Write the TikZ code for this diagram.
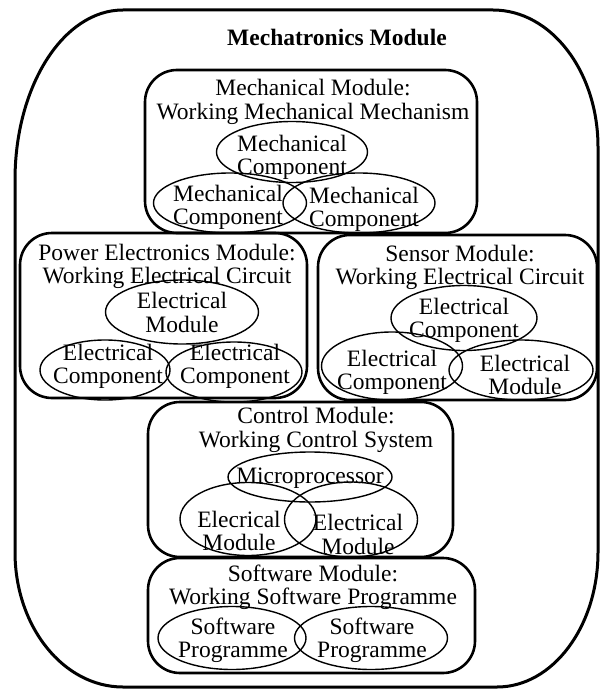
\documentclass[tikz,border=0pt]{standalone}
\usepackage{fontspec}
\setmainfont{Liberation Serif}
\usetikzlibrary{shapes.geometric}

\begin{document}
\begin{tikzpicture}[x=1pt, y=1pt, inner sep=0pt,
    font=\fontsize{23.5pt}{23.5pt}\selectfont,
    modbox/.style={draw, line width=2.6pt, rounded corners=32pt},
    part/.style={draw, ellipse, line width=1.4pt},
    lbl/.style={align=center}]
    \useasboundingbox (0,0) rectangle (600,-690);
    % outer frame
    \draw[line width=3pt] (123,-10) -- (493,-10)
      arc[start angle=90, end angle=0, x radius=105, y radius=137] -- (598,-552)
      arc[start angle=0, end angle=-90, x radius=101, y radius=135] -- (123,-687)
      arc[start angle=270, end angle=180, x radius=108, y radius=135] -- (15,-180)
      arc[start angle=180, end angle=90, x radius=108, y radius=170] -- cycle;
    \node[font=\fontsize{23.5pt}{23.5pt}\selectfont\bfseries] (mecha) at (337,-37) {Mechatronics Module};
    % module boxes
    \node[modbox, minimum width=332, minimum height=163] (mech) at (311,-151.5) {};
    \node[modbox, minimum width=287, minimum height=165] (power) at (163.5,-315.5) {};
    \node[modbox, minimum width=279, minimum height=165] (sensor) at (457.5,-317.5) {};
    \node[modbox, minimum width=305, minimum height=155] (control) at (300.5,-479.5) {};
    \node[modbox, minimum width=327, minimum height=115] (soft) at (311.5,-615.5) {};
    \node[lbl] (mechT) at (313,-102) {Mechanical Module:\\Working Mechanical Mechanism};
    \node[lbl] (powerT) at (167,-266.5) {Power Electronics Module:\\Working Electrical Circuit};
    \node[lbl] (sensorT) at (460,-267.5) {Sensor Module:\\Working Electrical Circuit};
    \node[lbl] (controlT) at (316,-430) {Control Module:\\Working Control System};
    \node[lbl] (softT) at (313,-587.5) {Software Module:\\Working Software Programme};
    % mechanical parts
    \node[part, minimum width=151, minimum height=61] (mc1) at (292,-152) {};
    \node[part, minimum width=153, minimum height=60] (mc2) at (230,-203) {};
    \node[part, minimum width=152, minimum height=60] (mc3) at (359,-203) {};
    \node[lbl] (mc1T) at (292,-157.5) {Mechanical\\Component};
    \node[lbl] (mc2T) at (228,-207.5) {Mechanical\\Component};
    \node[lbl] (mc3T) at (364,-209.5) {Mechanical\\Component};
    % power electronics parts
    \node[part, minimum width=153, minimum height=64] (pe1) at (182,-312) {};
    \node[part, minimum width=130, minimum height=60] (pe2) at (105,-370) {};
    \node[part, minimum width=136, minimum height=60] (pe3) at (234,-372) {};
    \node[lbl] (pe1T) at (182,-312.5) {Electrical\\Module};
    \node[lbl] (pe2T) at (108,-366.5) {Electrical\\Component};
    \node[lbl] (pe3T) at (235,-366.5) {Electrical\\Component};
    % sensor parts
    \node[part, minimum width=146, minimum height=65] (se1) at (464,-318) {};
    \node[part, minimum width=141, minimum height=68] (se2) at (392,-366) {};
    \node[part, minimum width=144, minimum height=60] (se3) at (521,-370) {};
    \node[lbl] (se1T) at (464,-320.5) {Electrical\\Component};
    \node[lbl] (se2T) at (392,-372.5) {Electrical\\Component};
    \node[lbl] (se3T) at (525,-375) {Electrical\\Module};
    % control parts
    \node[part, minimum width=164, minimum height=50] (co1) at (310,-477) {};
    \node[part, minimum width=136, minimum height=73] (co2) at (248,-519) {};
    \node[part, minimum width=133, minimum height=75] (co3) at (351,-519.5) {};
    \node[lbl] (co1T) at (310,-478) {Microprocessor};
    \node[lbl] (co2T) at (239,-531) {Elecrical\\Module};
    \node[lbl] (co3T) at (358,-534.5) {Electrical\\Module};
    % software parts
    \node[part, minimum width=148, minimum height=63] (sw1) at (232,-638) {};
    \node[part, minimum width=153, minimum height=63] (sw2) at (371,-638) {};
    \node[lbl] (sw1T) at (233,-640.5) {Software\\Programme};
    \node[lbl] (sw2T) at (372,-640.5) {Software\\Programme};
\end{tikzpicture}
\end{document}
